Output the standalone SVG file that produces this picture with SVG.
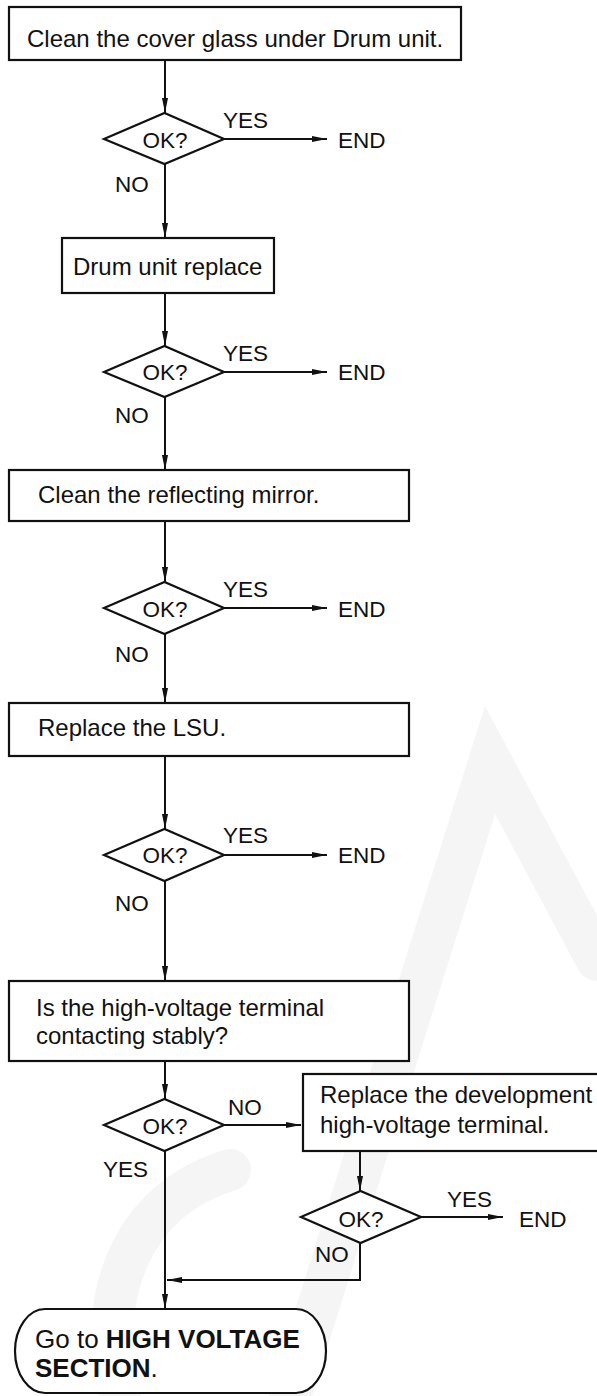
<svg xmlns="http://www.w3.org/2000/svg" width="597" height="1396" viewBox="0 0 597 1396">
<style>
.bx{fill:#fff;stroke:#111;stroke-width:2.2}
.dm{fill:#fff;stroke:#111;stroke-width:2.2}
.ln{fill:none;stroke:#111;stroke-width:2}
.t{font-family:"Liberation Sans",Arial,sans-serif;font-size:24px;fill:#111}
.l{font-family:"Liberation Sans",Arial,sans-serif;font-size:22.5px;fill:#111}
.g{font-family:"Liberation Sans",Arial,sans-serif;font-size:26px;fill:#111}
.b{font-weight:bold}
.wm{fill:none;stroke:#f5f5f5;stroke-width:42;stroke-linecap:round}
</style>
<defs>
<marker id="ah" markerUnits="userSpaceOnUse" markerWidth="15" markerHeight="6" refX="15" refY="3" orient="auto">
<path d="M0,0 L15,3 L0,6 z" fill="#111"/>
</marker>
</defs>
<rect width="597" height="1396" fill="#fff"/>
<g id="watermark">
<path class="wm" d="M120,1396 C95,1300 130,1200 230,1170"/>
<path class="wm" d="M290,1396 L490,760 L597,960"/>
</g>
<g id="connectors">
<line class="ln" x1="165" y1="60" x2="165" y2="113" marker-end="url(#ah)"/>
<line class="ln" x1="224" y1="139" x2="327" y2="139" marker-end="url(#ah)"/>
<line class="ln" x1="165" y1="164" x2="165" y2="238" marker-end="url(#ah)"/>
<line class="ln" x1="165" y1="293" x2="165" y2="346" marker-end="url(#ah)"/>
<line class="ln" x1="224" y1="372" x2="327" y2="372" marker-end="url(#ah)"/>
<line class="ln" x1="165" y1="397" x2="165" y2="470" marker-end="url(#ah)"/>
<line class="ln" x1="165" y1="521" x2="165" y2="582" marker-end="url(#ah)"/>
<line class="ln" x1="224" y1="608" x2="327" y2="608" marker-end="url(#ah)"/>
<line class="ln" x1="165" y1="634" x2="165" y2="703" marker-end="url(#ah)"/>
<line class="ln" x1="165" y1="756" x2="165" y2="829" marker-end="url(#ah)"/>
<line class="ln" x1="224" y1="855" x2="327" y2="855" marker-end="url(#ah)"/>
<line class="ln" x1="165" y1="881" x2="165" y2="981" marker-end="url(#ah)"/>
<line class="ln" x1="165" y1="1061" x2="165" y2="1099" marker-end="url(#ah)"/>
<line class="ln" x1="224" y1="1125" x2="301" y2="1125" marker-end="url(#ah)"/>
<line class="ln" x1="165" y1="1151" x2="165" y2="1309" marker-end="url(#ah)"/>
<line class="ln" x1="360" y1="1151" x2="360" y2="1191" marker-end="url(#ah)"/>
<line class="ln" x1="421" y1="1217" x2="503" y2="1217" marker-end="url(#ah)"/>
<polyline class="ln" points="360,1243 360,1280 167,1280" marker-end="url(#ah)"/>
</g>
<g id="box1">
<rect class="bx" x="9" y="7" width="452" height="53"/>
<text class="t" x="27" y="46.5">Clean the cover glass under Drum unit.</text>
</g>
<g id="dec1">
<polygon class="dm" points="104,139 164.5,113 224,139 164.5,164"/>
<text class="l" x="165" y="148" text-anchor="middle">OK?</text>
<text class="l" x="223" y="128">YES</text>
<text class="l" x="115" y="192">NO</text>
<text class="l" x="338" y="148">END</text>
</g>
<g id="box2">
<rect class="bx" x="62" y="238" width="212" height="55"/>
<text class="t" x="73" y="275">Drum unit replace</text>
</g>
<g id="dec2">
<polygon class="dm" points="104,372 164.5,346 224,372 164.5,397"/>
<text class="l" x="165" y="380" text-anchor="middle">OK?</text>
<text class="l" x="223" y="361">YES</text>
<text class="l" x="115" y="423">NO</text>
<text class="l" x="338" y="380">END</text>
</g>
<g id="box3">
<rect class="bx" x="9" y="470" width="400" height="51"/>
<text class="t" x="38" y="503">Clean the reflecting mirror.</text>
</g>
<g id="dec3">
<polygon class="dm" points="104,608 164.5,582 224,608 164.5,634"/>
<text class="l" x="165" y="617" text-anchor="middle">OK?</text>
<text class="l" x="223" y="597">YES</text>
<text class="l" x="115" y="662">NO</text>
<text class="l" x="338" y="617">END</text>
</g>
<g id="box4">
<rect class="bx" x="9" y="703" width="400" height="53"/>
<text class="t" x="38" y="736">Replace the LSU.</text>
</g>
<g id="dec4">
<polygon class="dm" points="104,855 164.5,829 224,855 164.5,881"/>
<text class="l" x="165" y="863" text-anchor="middle">OK?</text>
<text class="l" x="223" y="843">YES</text>
<text class="l" x="115" y="911">NO</text>
<text class="l" x="338" y="863">END</text>
</g>
<g id="box5">
<rect class="bx" x="9" y="981" width="400" height="80"/>
<text class="t" x="36" y="1016">Is the high-voltage terminal</text>
<text class="t" x="36" y="1044">contacting stably?</text>
</g>
<g id="dec5">
<polygon class="dm" points="104,1125 164.5,1099 224,1125 164.5,1151"/>
<text class="l" x="165" y="1134" text-anchor="middle">OK?</text>
<text class="l" x="228" y="1115">NO</text>
<text class="l" x="103" y="1177">YES</text>
</g>
<g id="box6">
<rect class="bx" x="303" y="1074" width="310" height="77"/>
<text class="t" x="320" y="1103">Replace the development</text>
<text class="t" x="320" y="1133">high-voltage terminal.</text>
</g>
<g id="dec6">
<polygon class="dm" points="301,1217 360.5,1191 421,1217 360.5,1243"/>
<text class="l" x="361" y="1227" text-anchor="middle">OK?</text>
<text class="l" x="447" y="1207">YES</text>
<text class="l" x="315" y="1262">NO</text>
<text class="l" x="519" y="1227">END</text>
</g>
<g id="terminal">
<path class="bx" d="M45,1309 L296,1309 A30,42 0 0 1 296,1393 L45,1393 A30,42 0 0 1 45,1309 Z"/>
<text class="g" x="35" y="1348">Go to <tspan class="b">HIGH VOLTAGE</tspan></text>
<text class="g" x="35" y="1377"><tspan class="b">SECTION</tspan>.</text>
</g>
</svg>
